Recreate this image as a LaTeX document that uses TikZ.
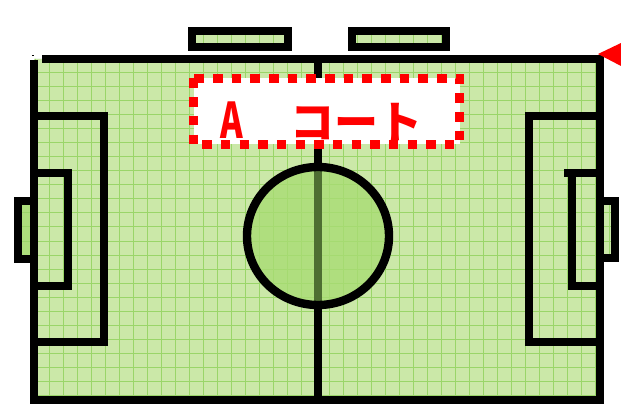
\documentclass[tikz,border=0pt]{standalone}
\usepackage{fontspec}
\usepackage{graphicx}
\newfontfamily\cjk{Noto Sans CJK JP}
\usepackage{xcolor}
\usetikzlibrary{positioning}
\definecolor{pitchgreen}{HTML}{CBE8A8}
\definecolor{gridgreen}{HTML}{9AD569}
\definecolor{circlegreen}{HTML}{A8DC74}
\definecolor{halfdark}{HTML}{4E6E32}
\tikzset{
  pitchline/.style={draw=black, line width=8.4pt, line join=miter},
  gridline/.style={draw=gridgreen, line width=1pt},
  courtlabel/.style={
    fill=white, minimum width=266pt, minimum height=66pt,
    inner sep=0pt, outer sep=0pt,
    text=red, font=\cjk\bfseries\fontsize{44pt}{44pt}\selectfont
  },
  courtdots/.style={draw=red, line width=9.6pt, dash pattern=on 9.6pt off 9.07pt},
}
\begin{document}
\begin{tikzpicture}[x=1pt, y=-1pt]
  \useasboundingbox (0,0) rectangle (621,406);

  % turf and goals
  \fill[pitchgreen] (34,59) rectangle (600,400);
  \fill[pitchgreen] (192,31) rectangle (288,47);
  \fill[pitchgreen] (352,31) rectangle (446,47);
  \fill[circlegreen!85!pitchgreen] (18,201) rectangle (34,259);
  \fill[pitchgreen] (600,201) rectangle (615,258);

  % grid
  \begin{scope}
    \clip (34,59) rectangle (600,400)
      (192,31) rectangle (288,47)
      (352,31) rectangle (446,47)
      (18,201) rectangle (34,259)
      (600,201) rectangle (615,258);
    \foreach \gx in {7,21,...,623} {
      \draw[gridline] (\gx,20) -- (\gx,404);
    }
    \foreach \gy in {45,59,...,395} {
      \draw[gridline] (10,\gy) -- (620,\gy);
    }
  \end{scope}

  % centre circle
  \begin{scope}
    \clip (318,236) ellipse (71 and 69);
    \fill[circlegreen, opacity=0.8] (240,160) rectangle (400,310);
  \end{scope}

  % outline
  \draw[pitchline] (42,59) -- (604,59);
  \draw[pitchline] (34,60) -- (34,404);
  \draw[pitchline] (600,59) -- (600,404);
  \draw[pitchline] (35,400) -- (604,400);
  \fill (32,55) rectangle (34,56.5);

  % halfway line
  \draw[pitchline] (318,59) -- (318,165);
  \draw[pitchline, draw=halfdark] (318,165) -- (318,305);
  \draw[pitchline] (318,305) -- (318,400);
  \draw[pitchline] (318,236) ellipse (71 and 69);

  % left end
  \draw[pitchline] (34,116) -- (104,116) -- (104,342) -- (34,342);
  \draw[pitchline] (34,173) -- (68,173) -- (68,286) -- (34,286);
  \draw[pitchline] (34,201) -- (18,201) -- (18,259) -- (34,259);

  % right end
  \draw[pitchline] (600,116) -- (529,116) -- (529,342) -- (600,342);
  \draw[pitchline] (600,173) -- (564,173);
  \draw[pitchline] (600,286) -- (572,286) -- (572,173);
  \draw[pitchline] (600,201) -- (615,201) -- (615,258) -- (600,258);

  % top goals
  \draw[pitchline] (192,31) rectangle (288,47);
  \draw[pitchline] (352,31) rectangle (446,47);

  % label
  \node[courtlabel] (courta) at (326.5,111.5)
    {\raisebox{-27.5pt}[0pt][0pt]{\scalebox{0.78}[1.12]{A}\hspace{47pt}コート\hspace*{10pt}}};
  \draw[courtdots] (courta.north west) -- (courta.south west)
    -- (courta.south east) -- (courta.north east) -- cycle;

  % red marker
  \fill[red] (598,54) -- (621,43) -- (621,66) -- cycle;
\end{tikzpicture}
\end{document}
